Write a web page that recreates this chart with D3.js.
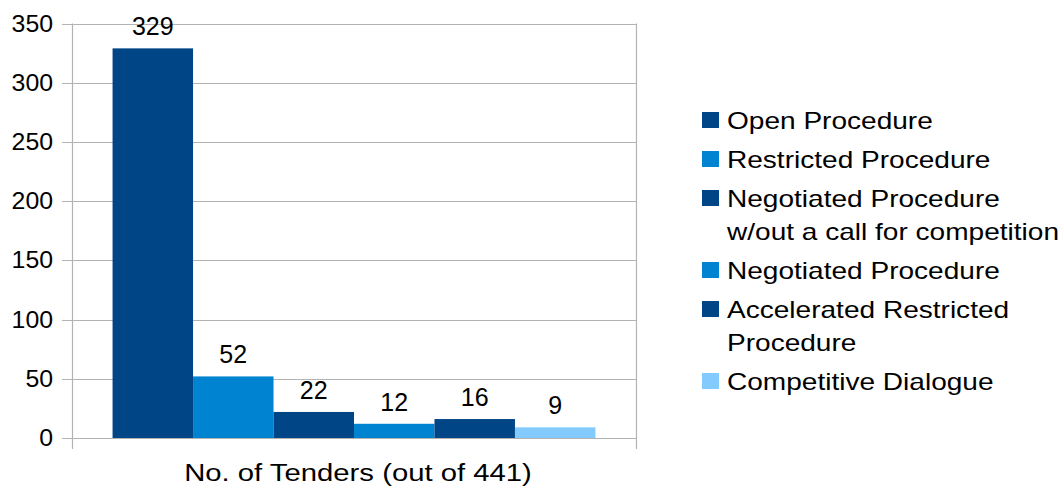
<!DOCTYPE html>
<html>
<head>
<meta charset="utf-8">
<script src="https://cdn.jsdelivr.net/npm/d3@7"></script>
<style>
  body { margin: 0; background: #fff; }
  text { font-family: "Liberation Sans", Arial, sans-serif; fill: #000; }
</style>
</head>
<body>
<div id="chart"></div>
<script>
// data
var category = "No. of Tenders (out of 441)";
var series = ["Open Procedure", "Restricted Procedure",
  "Negotiated Procedure w/out a call for competition", "Negotiated Procedure",
  "Accelerated Restricted Procedure", "Competitive Dialogue"];
var values = [329, 52, 22, 12, 16, 9];
var legendLines = [["Open Procedure"], ["Restricted Procedure"],
  ["Negotiated Procedure", "w/out a call for competition"], ["Negotiated Procedure"],
  ["Accelerated Restricted", "Procedure"], ["Competitive Dialogue"]];
var yTicks = [0, 50, 100, 150, 200, 250, 300, 350];
var colors = ["#004586", "#0084d1", "#004586", "#0084d1", "#004586", "#83caff"];

var width = 1062, height = 489,
    plot = { left: 72, right: 636, top: 23.5, bottom: 438 };

var svg = d3.select("#chart").append("svg")
    .attr("width", width)
    .attr("height", height);

var y = d3.scaleLinear().domain([0, 350]).range([plot.bottom, plot.top]);
var x0 = d3.scaleBand().domain([category])
    .range([plot.left, plot.right])
    .paddingInner(0).paddingOuter(0.084);
var x1 = d3.scaleBand().domain(series).range([0, x0.bandwidth()]);

// grid + y ticks
var grid = "#b3b3b3";
svg.selectAll(".grid")
  .data(yTicks)
  .enter().append("line")
    .attr("x1", plot.left - 10)
    .attr("x2", plot.right)
    .attr("y1", function(d) { return Math.round(y(d)) + 0.5; })
    .attr("y2", function(d) { return Math.round(y(d)) + 0.5; })
    .style("stroke", grid)
    .style("stroke-width", 1.2);

// vertical borders (category edges) with ticks below
[plot.left, plot.right].forEach(function(xx) {
  svg.append("line")
    .attr("x1", xx + 0.5).attr("x2", xx + 0.5)
    .attr("y1", plot.top).attr("y2", plot.bottom + 11)
    .style("stroke", grid)
    .style("stroke-width", 1.2);
});

svg.selectAll(".ylab")
  .data(yTicks)
  .enter().append("text")
    .attr("transform", function(d) { return "translate(53," + (y(d) + 8) + ") scale(1.08,1)"; })
    .style("text-anchor", "end")
    .style("font-size", "23px")
    .text(function(d) { return d; });

// bars
var g = svg.append("g").attr("transform", "translate(" + x0(category) + ",0)");
g.selectAll("rect")
  .data(values)
  .enter().append("rect")
    .attr("x", function(d, i) { return x1(series[i]); })
    .attr("y", function(d) { return y(d); })
    .attr("width", x1.bandwidth())
    .attr("height", function(d) { return y(0) - y(d); })
    .style("fill", function(d, i) { return colors[i]; });

g.selectAll(".val")
  .data(values)
  .enter().append("text")
    .attr("x", function(d, i) { return x1(series[i]) + x1.bandwidth() / 2; })
    .attr("y", function(d) { return y(d) - 13; })
    .style("text-anchor", "middle")
    .style("font-size", "25px")
    .text(function(d) { return d; });

// category label
svg.append("text")
  .attr("transform", "translate(" + (x0(category) + x0.bandwidth() / 2 + 4) + ",481) scale(1.22,1)")
  .style("text-anchor", "middle")
  .style("font-size", "24px")
  .text(category);

// legend
var legend = svg.append("g").attr("transform", "translate(702,112)");
var offset = 0;
legendLines.forEach(function(lines, i) {
  var item = legend.append("g").attr("transform", "translate(0," + offset + ")");
  item.append("rect")
    .attr("width", 17).attr("height", 16)
    .style("fill", colors[i]);
  lines.forEach(function(t, j) {
    item.append("text")
      .attr("transform", "translate(25," + (16.5 + j * 33) + ") scale(1.22,1)")
      .style("font-size", "23px")
      .text(t);
  });
  offset += lines.length * 33 + 6;
});
</script>
</body>
</html>
